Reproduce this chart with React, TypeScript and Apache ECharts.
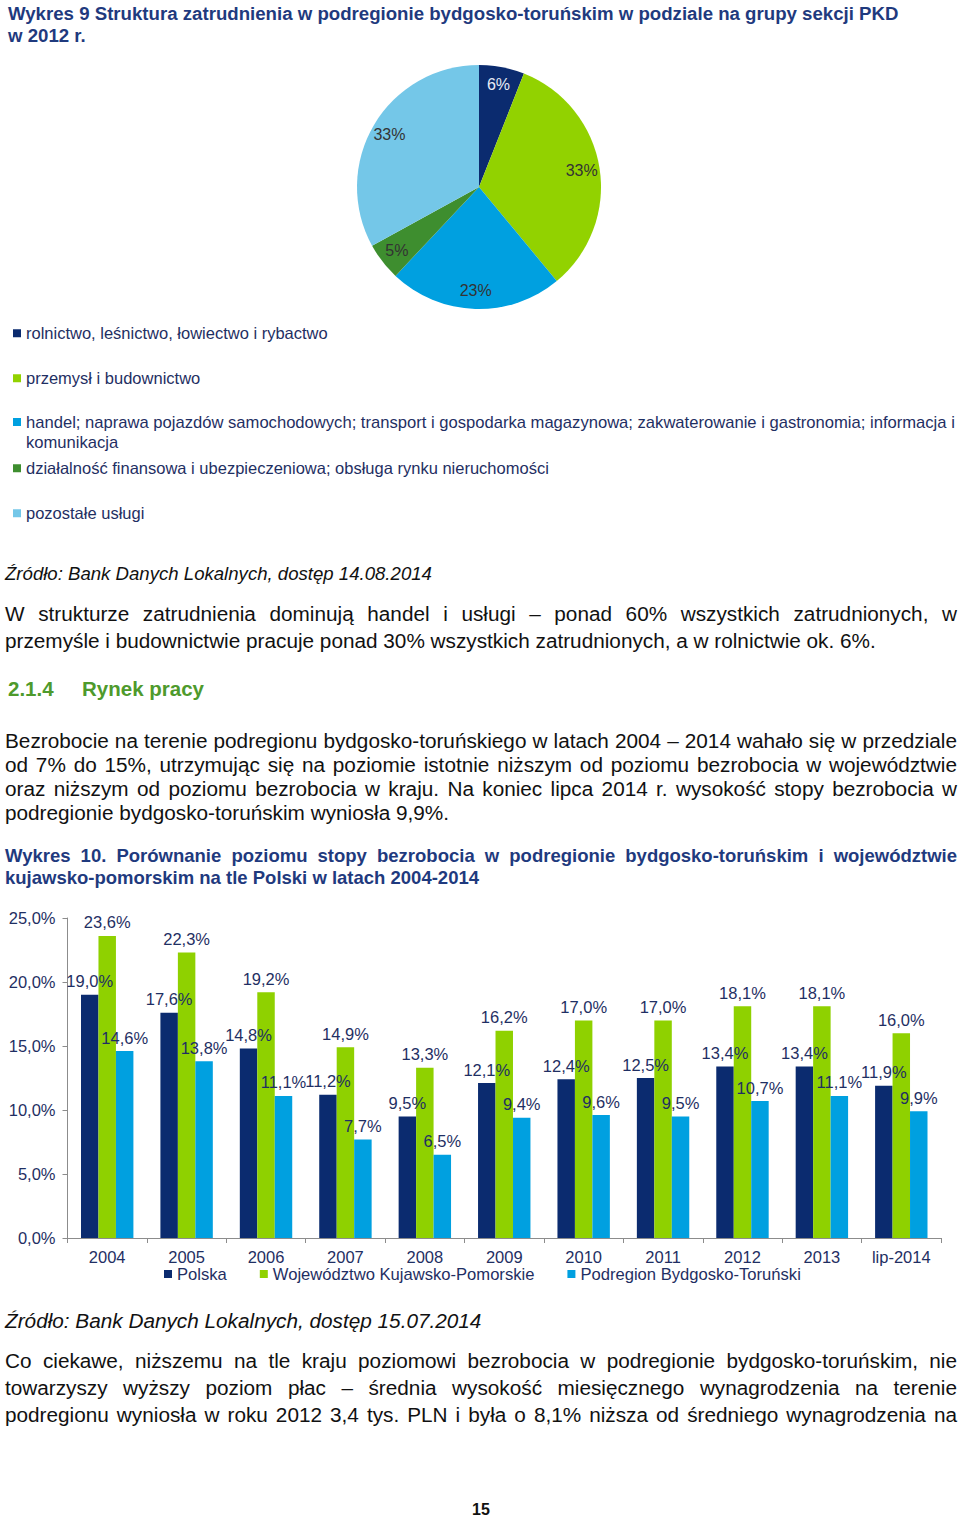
import React, { useEffect, useRef } from "react";
import * as echarts from "echarts";

// ---------- Data: Wykres 9 (pie) ----------
const sectorNames = [
  "rolnictwo, leśnictwo, łowiectwo i rybactwo",
  "przemysł i budownictwo",
  "handel; naprawa pojazdów samochodowych; transport i gospodarka magazynowa; zakwaterowanie i gastronomia; informacja i komunikacja",
  "działalność finansowa i ubezpieczeniowa; obsługa rynku nieruchomości",
  "pozostałe usługi",
];
const sectorShares = [6, 33, 23, 5, 33];
const sectorColors = ["#0B2B6F", "#92D200", "#00A0E0", "#3E8E2F", "#74C7E8"];
const sectorLabelColors = ["#E8ECF5", "#333333", "#333333", "#333333", "#333333"];

// ---------- Data: Wykres 10 (bars) ----------
const years = ["2004", "2005", "2006", "2007", "2008", "2009", "2010", "2011", "2012", "2013", "lip-2014"];
const seriesNames = ["Polska", "Województwo Kujawsko-Pomorskie", "Podregion Bydgosko-Toruński"];
const polska = [19.0, 17.6, 14.8, 11.2, 9.5, 12.1, 12.4, 12.5, 13.4, 13.4, 11.9];
const wojewodztwo = [23.6, 22.3, 19.2, 14.9, 13.3, 16.2, 17.0, 17.0, 18.1, 18.1, 16.0];
const podregion = [14.6, 13.8, 11.1, 7.7, 6.5, 9.4, 9.6, 9.5, 10.7, 11.1, 9.9];
const barColors = ["#0B2B6F", "#8FD100", "#00A0E0"];
const yTicks = { min: 0, max: 25, interval: 5 };

const FONT = '"Liberation Sans", Arial, Helvetica, sans-serif';
const NAVY_TEXT = "#1F2F63";

const pct = (v: number) => v.toFixed(1).replace(".", ",") + "%";

function PieChart() {
  const ref = useRef<HTMLDivElement>(null);
  useEffect(() => {
    const chart = echarts.init(ref.current!, null, { renderer: "svg" });
    const data = sectorNames.map((n, i) => ({
      name: n,
      value: sectorShares[i],
      itemStyle: { color: sectorColors[i] },
      label: { color: sectorLabelColors[i] },
    }));
    const legendTops = [333, 378, 422, 468, 513];
    const legends = sectorNames.map((n, i) => ({
      data: [n],
      orient: "vertical",
      left: 13,
      top: i === 2 ? legendTops[i] - 50 - 30 : legendTops[i] - 50 - 8.25,
      itemWidth: 8,
      itemHeight: 8,
      icon: "rect",
      selectedMode: false,
      padding: 0,
      formatter:
        i === 2 ? (name: string) => "\n" + name.replace("informacja i komunikacja", "informacja i\nkomunikacja") : undefined,
      textStyle:
        i === 2
          ? { fontFamily: FONT, fontSize: 16.6, color: NAVY_TEXT, lineHeight: 20 }
          : { fontFamily: FONT, fontSize: 16.5, color: NAVY_TEXT },
    }));
    chart.setOption({
      animation: false,
      legend: legends,
      series: [
        {
          type: "pie",
          center: [479, 137],
          radius: [0, 122],
          startAngle: 90,
          clockwise: true,
          silent: true,
          label: { show: false },
          labelLine: { show: false },
          data,
        },
        {
          type: "pie",
          center: [479, 137],
          radius: [80, 122],
          startAngle: 90,
          clockwise: true,
          silent: true,
          legendHoverLink: false,
          itemStyle: { color: "rgba(0,0,0,0)" },
          label: {
            show: true,
            position: "inside",
            fontFamily: FONT,
            fontSize: 16,
            formatter: (p: any) => p.value + "%",
          },
          labelLine: { show: false },
          data: data.map((d) => ({ ...d, itemStyle: { color: "rgba(0,0,0,0)" } })),
        },
      ],
    });
    return () => chart.dispose();
  }, []);
  return <div ref={ref} style={{ position: "absolute", left: 0, top: 50, width: 960, height: 480 }} />;
}

function BarChart() {
  const ref = useRef<HTMLDivElement>(null);
  useEffect(() => {
    const chart = echarts.init(ref.current!, null, { renderer: "svg" });
    const values = [polska, wojewodztwo, podregion];
    chart.setOption({
      animation: false,
      grid: { left: 67.5, right: 19, top: 18, bottom: 62, containLabel: false },
      legend: {
        data: seriesNames,
        left: 164,
        top: 365.5,
        itemWidth: 8,
        itemHeight: 8,
        itemGap: 33,
        icon: "rect",
        selectedMode: false,
        padding: 0,
        textStyle: { fontFamily: FONT, fontSize: 16.6, color: NAVY_TEXT },
      },
      xAxis: {
        type: "category",
        data: years,
        boundaryGap: true,
        axisLine: { lineStyle: { color: "#8C8C8C", width: 1 } },
        axisTick: { show: true, length: 5, interval: 0, lineStyle: { color: "#8C8C8C" } },
        axisLabel: { fontFamily: FONT, fontSize: 16.5, color: NAVY_TEXT, margin: 10, interval: 0 },
        splitLine: { show: false },
      },
      yAxis: {
        type: "value",
        min: yTicks.min,
        max: yTicks.max,
        interval: yTicks.interval,
        axisLine: { show: true, lineStyle: { color: "#8C8C8C", width: 1 } },
        axisTick: { show: true, length: 5, lineStyle: { color: "#8C8C8C" } },
        axisLabel: { fontFamily: FONT, fontSize: 16.5, color: NAVY_TEXT, margin: 12, formatter: (v: number) => pct(v) },
        splitLine: { show: false },
      },
      series: seriesNames.map((name, i) => ({
        name,
        type: "bar",
        data: values[i],
        barGap: "0%",
        barCategoryGap: "34%",
        itemStyle: { color: barColors[i] },
        label: {
          show: true,
          position: "top",
          distance: 5,
          fontFamily: FONT,
          fontSize: 16.5,
          color: NAVY_TEXT,
          formatter: (p: any) => pct(p.value),
        },
      })),
    });
    return () => chart.dispose();
  }, []);
  return <div ref={ref} style={{ position: "absolute", left: 0, top: 900, width: 960, height: 400 }} />;
}

function Lines({ lines, top, left, width, lh, size, justifyAll, noJustify, style }: any) {
  return (
    <div style={{ position: "absolute", top, left, width, fontSize: size, lineHeight: lh + "px", ...style }}>
      {lines.map((l: string, i: number) => {
        const j = !noJustify && (justifyAll || i < lines.length - 1);
        return (
          <div
            key={i}
            style={{ textAlign: j ? "justify" : "left", textAlignLast: j ? "justify" : "left", whiteSpace: "nowrap" }}
          >
            {l}
          </div>
        );
      })}
    </div>
  );
}

const BODY = 20.75;

export default function App() {
  return (
    <div
      style={{
        position: "absolute",
        left: 0,
        top: 0,
        width: 960,
        height: 1520,
        background: "#ffffff",
        fontFamily: FONT,
        color: "#111111",
        overflow: "hidden",
      }}
    >
      <Lines
        lines={[
          "Wykres 9 Struktura zatrudnienia w podregionie bydgosko-toruńskim w podziale na grupy sekcji PKD",
          "w 2012 r.",
        ]}
        top={3}
        left={8}
        width={940}
        lh={22}
        size={18.65}
        noJustify={true}
        style={{ fontWeight: "bold", color: "#1F3A7E" }}
      />
      <PieChart />
      <div style={{ position: "absolute", top: 563, left: 5, fontSize: 18.6, lineHeight: "22px", fontStyle: "italic" }}>
        Źródło: Bank Danych Lokalnych, dostęp 14.08.2014
      </div>
      <Lines
        lines={[
          "W strukturze zatrudnienia dominują handel i usługi – ponad 60% wszystkich zatrudnionych, w",
          "przemyśle i budownictwie pracuje ponad 30% wszystkich zatrudnionych, a w rolnictwie ok. 6%.",
        ]}
        top={599.5}
        left={5}
        width={952}
        lh={27}
        size={BODY}
      />
      <div
        style={{
          position: "absolute",
          top: 678,
          left: 8,
          fontSize: 20.5,
          lineHeight: "22px",
          fontWeight: "bold",
          color: "#4E9A2C",
        }}
      >
        2.1.4
      </div>
      <div
        style={{
          position: "absolute",
          top: 678,
          left: 82,
          fontSize: 20.5,
          lineHeight: "22px",
          fontWeight: "bold",
          color: "#4E9A2C",
        }}
      >
        Rynek pracy
      </div>
      <Lines
        lines={[
          "Bezrobocie na terenie podregionu bydgosko-toruńskiego w latach 2004 – 2014 wahało się w przedziale",
          "od 7% do 15%, utrzymując się na poziomie istotnie niższym od poziomu bezrobocia w województwie",
          "oraz niższym od poziomu bezrobocia w kraju. Na koniec lipca 2014 r. wysokość stopy bezrobocia w",
          "podregionie bydgosko-toruńskim wyniosła 9,9%.",
        ]}
        top={729}
        left={5}
        width={952}
        lh={24}
        size={BODY}
      />
      <Lines
        lines={[
          "Wykres 10. Porównanie poziomu stopy bezrobocia w podregionie bydgosko-toruńskim i województwie",
          "kujawsko-pomorskim na tle Polski w latach 2004-2014",
        ]}
        top={845}
        left={5}
        width={952}
        lh={22}
        size={18.5}
        style={{ fontWeight: "bold", color: "#1F3A7E" }}
      />
      <BarChart />
      <div style={{ position: "absolute", top: 1309, left: 5, fontSize: BODY, lineHeight: "24px", fontStyle: "italic" }}>
        Źródło: Bank Danych Lokalnych, dostęp 15.07.2014
      </div>
      <Lines
        lines={[
          "Co ciekawe, niższemu na tle kraju poziomowi bezrobocia w podregionie bydgosko-toruńskim, nie",
          "towarzyszy wyższy poziom płac – średnia wysokość miesięcznego wynagrodzenia na terenie",
          "podregionu wyniosła w roku 2012 3,4 tys. PLN i była o 8,1% niższa od średniego wynagrodzenia na",
        ]}
        top={1346.5}
        left={5}
        width={952}
        lh={27}
        size={BODY}
        justifyAll={true}
      />
      <div
        style={{
          position: "absolute",
          top: 1501,
          left: 0,
          width: 962,
          textAlign: "center",
          fontSize: 16,
          lineHeight: "18px",
          fontWeight: "bold",
        }}
      >
        15
      </div>
    </div>
  );
}
